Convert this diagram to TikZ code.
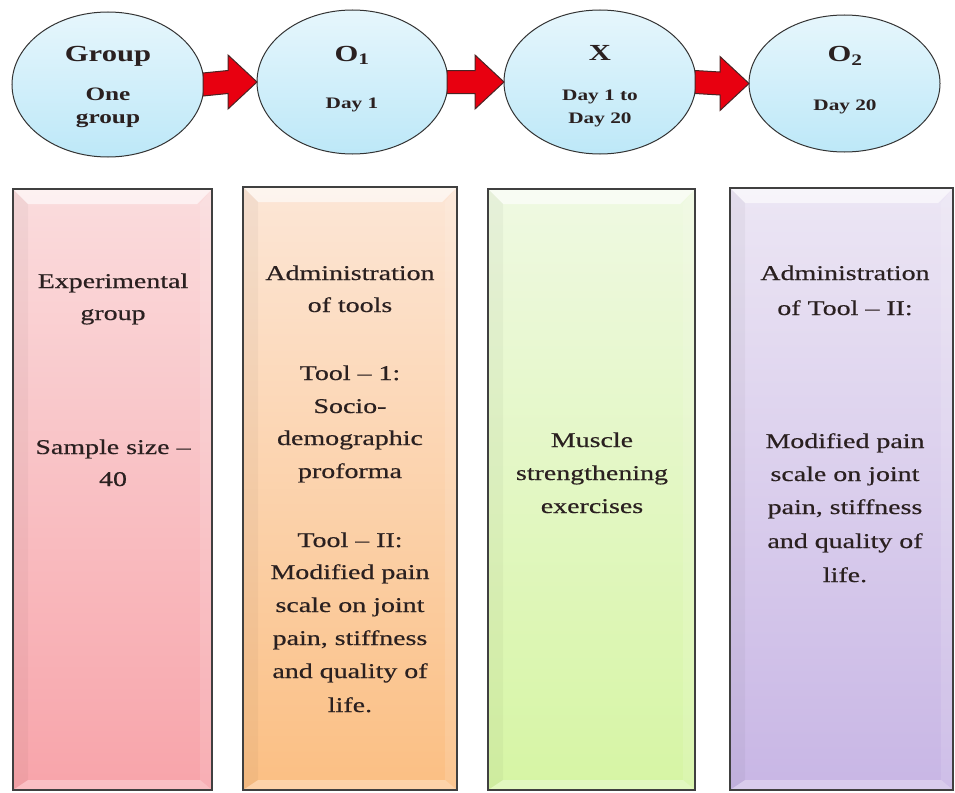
\documentclass[tikz,border=0pt]{standalone}
\usepackage{fontspec}
\setmainfont{Liberation Serif}[FakeStretch=1.33]
\newfontfamily\boxfont{Liberation Serif}[FakeStretch=1.33,FakeBold=0.5]
\usetikzlibrary{calc,shapes.geometric}
\definecolor{ink}{HTML}{2A2020}
\definecolor{cirtop}{HTML}{E6F6FC}
\definecolor{cirbot}{HTML}{BDE8F8}
\definecolor{aTop}{HTML}{FADCDD}\definecolor{aBot}{HTML}{F8A4AA}
\definecolor{bTop}{HTML}{FCE6D6}\definecolor{bBot}{HTML}{FBBF83}
\definecolor{cTop}{HTML}{EFF9E2}\definecolor{cBot}{HTML}{D6F5A4}
\definecolor{dTop}{HTML}{ECE6F4}\definecolor{dBot}{HTML}{C8B6E5}
\definecolor{arrred}{HTML}{E80010}
\definecolor{arredge}{HTML}{4A2424}
\newcommand\bevelbox[1]{%
  \fill[white,opacity=.6] (#1.north west) -- (#1.north east) -- ($(#1.north east)+(-15,15)$) -- ($(#1.north west)+(15,15)$) -- cycle;
  \fill[black,opacity=.035] (#1.north west) -- ($(#1.north west)+(15,15)$) -- ($(#1.south west)+(15,-10)$) -- (#1.south west) -- cycle;
  \fill[white,opacity=.12] (#1.north east) -- ($(#1.north east)+(-12,15)$) -- ($(#1.south east)+(-12,-10)$) -- (#1.south east) -- cycle;
  \fill[white,opacity=.3] (#1.south west) -- ($(#1.south west)+(15,-10)$) -- ($(#1.south east)+(-12,-10)$) -- (#1.south east) -- cycle;
  \draw[line width=1.4pt,draw=black!75] (#1.north west) rectangle (#1.south east);}
\newcommand\bigarrow[2]{%
  \draw[arrst] ($(#1.east)+(-1,-11.5)$) -- ($(#2.west)+(-29,-11.5)$) -- ($(#2.west)+(-29,-27)$) -- (#2.west)
     -- ($(#2.west)+(-29,27)$) -- ($(#2.west)+(-29,11.5)$) -- ($(#1.east)+(-1,11.5)$) -- cycle;}
\begin{document}
\begin{tikzpicture}[x=1pt,y=-1pt,
  circ/.style={ellipse,draw=black!80,line width=1pt,top color=cirtop,bottom color=cirbot,inner sep=0pt,outer sep=0pt},
  boxst/.style={rectangle,inner sep=0pt,outer sep=0pt},
  arrst/.style={fill=arrred,draw=arredge,line width=1pt,line join=miter},
  big/.style={font=\fontsize{23}{25}\selectfont\bfseries,text=ink,anchor=base,inner sep=0pt},
  mid/.style={font=\fontsize{19}{21}\selectfont\bfseries,text=ink,anchor=base,inner sep=0pt},
  small/.style={font=\fontsize{16}{18}\selectfont\bfseries,text=ink,anchor=base,inner sep=0pt},
  txt/.style={font=\boxfont\fontsize{21}{23}\selectfont,text=ink,anchor=base,inner sep=0pt}]
\useasboundingbox (0,0) rectangle (955,792);
\fill[white] (0,0) rectangle (955,792);
% top ellipses
\node[circ,minimum width=192,minimum height=145] (g) at (108,84.5) {};
\node[circ,minimum width=191,minimum height=144] (o1) at (352.5,82) {};
\node[circ,minimum width=192,minimum height=144] (x) at (600,82) {};
\node[circ,minimum width=191,minimum height=137] (o2) at (844.5,83.5) {};
\bigarrow{g}{o1}
\bigarrow{o1}{x}
\bigarrow{x}{o2}
% ellipse texts
\node[big] (gt) at (108,61) {Group};
\node[mid] (gt2) at (108,100) {One};
\node[mid] (gt3) at (108,123) {group};
\node[big] (o1t) at (352,61) {O\textsubscript{1}};
\node[small] (o1t2) at (352,108) {Day 1};
\node[big] (xt) at (600,60) {X};
\node[small] (xt2) at (600,100) {Day 1 to};
\node[small] (xt3) at (600,123) {Day 20};
\node[big] (o2t) at (845,62) {O\textsubscript{2}};
\node[small] (o2t2) at (845,110) {Day 20};
% boxes
\node[boxst,top color=aTop,bottom color=aBot,minimum width=199,minimum height=601] (b1) at (112.5,489.5) {};
\node[boxst,top color=bTop,bottom color=bBot,minimum width=214,minimum height=603] (b2) at (350,488.5) {};
\node[boxst,top color=cTop,bottom color=cBot,minimum width=207,minimum height=601] (b3) at (591.5,489.5) {};
\node[boxst,top color=dTop,bottom color=dBot,minimum width=223,minimum height=602] (b4) at (841.5,489) {};
\bevelbox{b1}\bevelbox{b2}\bevelbox{b3}\bevelbox{b4}
% box 1 text
\node[txt] (a1) at (113,288) {Experimental};
\node[txt] (a2) at (113,320) {group};
\node[txt] (a3) at (113,454) {Sample size –};
\node[txt] (a4) at (113,486) {40};
% box 2 text
\node[txt] (c1) at (350,280) {Administration};
\node[txt] (c2) at (350,312) {of tools};
\node[txt] (c3) at (350,380) {Tool – 1:};
\node[txt] (c4) at (350,413) {Socio-};
\node[txt] (c5) at (350,445) {demographic};
\node[txt] (c6) at (350,478) {proforma};
\node[txt] (c7) at (350,547) {Tool – II:};
\node[txt] (c8) at (350,579) {Modified pain};
\node[txt] (c9) at (350,612) {scale on joint};
\node[txt] (c10) at (350,645) {pain, stiffness};
\node[txt] (c11) at (350,678) {and quality of};
\node[txt] (c12) at (350,712) {life.};
% box 3 text
\node[txt] (d1) at (592,447) {Muscle};
\node[txt] (d2) at (592,480) {strengthening};
\node[txt] (d3) at (592,513) {exercises};
% box 4 text
\node[txt] (e1) at (845,280) {Administration};
\node[txt] (e2) at (845,315) {of Tool – II:};
\node[txt] (e3) at (845,448) {Modified pain};
\node[txt] (e4) at (845,481) {scale on joint};
\node[txt] (e5) at (845,514) {pain, stiffness};
\node[txt] (e6) at (845,548) {and quality of};
\node[txt] (e7) at (845,582) {life.};
\end{tikzpicture}
\end{document}
